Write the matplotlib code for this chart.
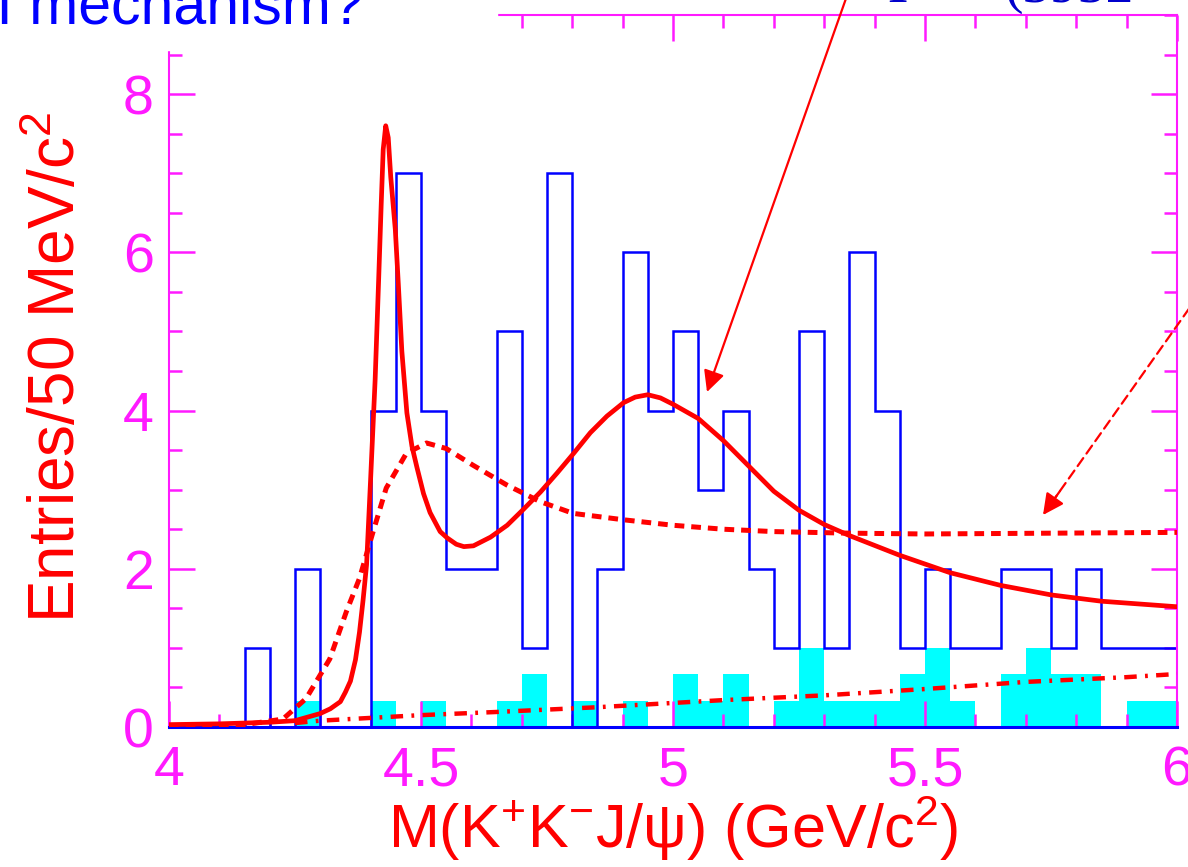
import numpy as np
import matplotlib
matplotlib.use("Agg")
import matplotlib.pyplot as plt
from matplotlib import font_manager
from matplotlib.patches import Rectangle
from matplotlib.ticker import MultipleLocator

# 50 MeV bins from 4.0 to 6.0 GeV
edges = np.round(np.arange(4.0, 6.0001, 0.05), 3)

# candidate events per bin
data_counts = [0, 0, 0, 1, 0, 2, 0, 0, 4, 7,
               4, 2, 2, 5, 1, 7, 0, 2, 6, 4,
               5, 3, 4, 2, 1, 5, 1, 6, 4, 1,
               2, 1, 1, 2, 2, 1, 2, 1, 1, 1]
# scaled sideband (1/3 per event)
sideband = [0, 0, 0, 0, 0, 1/3, 0, 0, 1/3, 0,
            1/3, 0, 0, 1/3, 2/3, 0, 1/3, 0, 1/3, 0,
            2/3, 1/3, 2/3, 0, 1/3, 1, 1/3, 1/3, 1/3, 2/3,
            1, 1/3, 0, 2/3, 1, 2/3, 2/3, 0, 1/3, 1/3]

# total fit
fit_m = [4.00, 4.10, 4.20, 4.25, 4.30, 4.32, 4.34, 4.35, 4.36, 4.37,
         4.378, 4.385, 4.392, 4.400, 4.409, 4.416, 4.421, 4.425, 4.430, 4.435,
         4.440, 4.449, 4.455, 4.462, 4.472, 4.482, 4.492, 4.505, 4.518, 4.538,
         4.552, 4.570, 4.585, 4.604, 4.638, 4.671, 4.703, 4.737, 4.770, 4.803,
         4.836, 4.869, 4.902, 4.925, 4.950, 4.975, 5.00, 5.05, 5.10, 5.15,
         5.20, 5.25, 5.30, 5.35, 5.45, 5.55, 5.65, 5.75, 5.85, 6.00]
fit_n = [0.03, 0.04, 0.06, 0.08, 0.17, 0.23, 0.32, 0.44, 0.58, 0.85,
         1.20, 1.60, 2.05, 3.13, 4.39, 5.66, 6.60, 7.30, 7.60, 7.45,
         6.95, 6.29, 5.60, 4.75, 3.97, 3.55, 3.28, 2.95, 2.71, 2.47,
         2.39, 2.31, 2.28, 2.29, 2.40, 2.55, 2.75, 2.97, 3.21, 3.46,
         3.72, 3.93, 4.10, 4.17, 4.20, 4.16, 4.08, 3.90, 3.62, 3.30,
         2.98, 2.74, 2.56, 2.42, 2.17, 1.95, 1.79, 1.67, 1.59, 1.52]

# phase-space like component (dashed)
ps_m = [4.00, 4.15, 4.226, 4.272, 4.319, 4.352, 4.378, 4.405, 4.431, 4.471,
        4.511, 4.550, 4.603, 4.670, 4.736, 4.802, 4.901, 5.00, 5.10, 5.20,
        5.35, 5.50, 5.75, 6.00]
ps_n = [0.00, 0.03, 0.10, 0.36, 0.86, 1.46, 1.88, 2.47, 3.02, 3.46,
        3.59, 3.52, 3.31, 3.06, 2.85, 2.70, 2.62, 2.55, 2.50, 2.47,
        2.45, 2.44, 2.45, 2.46]

# background (dash-dot)
bg_m = [4.25, 4.30, 4.50, 4.65, 4.85, 5.10, 5.30, 5.50, 5.70, 5.90, 6.00]
bg_n = [0.05, 0.08, 0.15, 0.19, 0.25, 0.34, 0.40, 0.48, 0.57, 0.63, 0.67]

MAG = "#ff1aff"
W, H = 1188, 867

names = {f.name for f in font_manager.fontManager.ttflist}
tickfont = "Liberation Sans Narrow" if "Liberation Sans Narrow" in names else "Liberation Sans"

plt.rcParams["font.family"] = ["Liberation Sans", "DejaVu Sans"]
plt.rcParams["mathtext.fontset"] = "custom"
plt.rcParams["mathtext.rm"] = "Liberation Sans"
plt.rcParams["mathtext.it"] = "Liberation Sans"
plt.rcParams["lines.scale_dashes"] = False

fig = plt.figure(figsize=(W / 100, H / 100), dpi=100)
ax = fig.add_axes([169 / W, 1 - 727 / H, (1177 - 169) / W, (727 - 15) / H])

ax.stairs(sideband, edges, fill=True, color="#00ffff", zorder=1)
ax.stairs(data_counts, edges, color="#0000ff", lw=1.8, zorder=2)

ax.plot(bg_m, bg_n, color="red", lw=3.2, zorder=3,
        linestyle=(0, (9, 6, 2, 6)))
ax.plot(ps_m, ps_n, color="red", lw=3.6, zorder=3,
        linestyle=(0, (7, 5)))
ax.plot(fit_m, fit_n, color="red", lw=3.4, zorder=4,
        solid_joinstyle="round", solid_capstyle="round")

ax.set_xlim(4, 6)
ax.set_ylim(0, 9)
ax.xaxis.set_major_locator(MultipleLocator(0.5))
ax.xaxis.set_minor_locator(MultipleLocator(0.1))
ax.yaxis.set_major_locator(MultipleLocator(2))
ax.yaxis.set_minor_locator(MultipleLocator(0.5))
ax.set_xticks([4, 4.5, 5, 5.5, 6], ["4", "4.5", "5", "5.5", "6"])

ax.tick_params(which="both", direction="in", top=True, right=True,
               color=MAG, width=1.8, labelcolor=MAG)
ax.tick_params(which="major", length=19, labelsize=40)
ax.tick_params(which="minor", length=9.5)
ax.tick_params(axis="x", pad=13)
ax.tick_params(axis="y", pad=11)
for lab in ax.get_xticklabels() + ax.get_yticklabels():
    lab.set_fontfamily(tickfont)

for side in ("left", "right", "top"):
    ax.spines[side].set_color(MAG)
    ax.spines[side].set_linewidth(1.5)
ax.spines["bottom"].set_color("#0000ff")
ax.spines["bottom"].set_linewidth(2.2)

def fx(x):
    return x / W

def fy(y):
    return 1 - y / H

fig.text(fx(673), fy(848), "M(K$^{+}$K$^{-}$J/ψ) (GeV/c$^{2}$)",
         color="red", fontsize=44, ha="center", va="baseline")
fig.text(fx(58), fy(367), "Entries/50 MeV/c$^{2}$", color="red",
         fontsize=46, rotation=90, ha="center", va="center")

# slide elements overlapping the plot
fig.patches.append(Rectangle((0, fy(50)), fx(497), 50 / H,
                             transform=fig.transFigure, color="white", zorder=10))
fig.text(fx(364), fy(24), "FSI mechanism?", color="#0000ff", fontsize=42.5,
         ha="right", va="baseline", zorder=11)
fig.text(fx(897), fy(2), "Y", color="#0000cc", fontsize=40, ha="center",
         va="baseline", family=["Liberation Serif", "DejaVu Serif"])
fig.text(fx(1005), fy(2), "(3932", color="#0000cc", fontsize=40, ha="left",
         va="baseline", family=["Liberation Serif", "DejaVu Serif"])

# arrows pointing at the fit components
ax.annotate("", xy=(707, H - 392), xycoords="figure pixels",
            xytext=(849, H + 10), textcoords="figure pixels",
            annotation_clip=False,
            arrowprops=dict(arrowstyle="-|>", color="red", lw=1.6,
                            mutation_scale=32, shrinkA=0, shrinkB=0))
ax.annotate("", xy=(1055, H - 498), xycoords="figure pixels",
            xytext=(1198, H - 296), textcoords="figure pixels",
            annotation_clip=False,
            arrowprops=dict(arrowstyle="-", color="red", lw=1.6,
                            linestyle=(0, (7, 4)), shrinkA=0, shrinkB=0))
ax.annotate("", xy=(1043, H - 515), xycoords="figure pixels",
            xytext=(1060, H - 491), textcoords="figure pixels",
            annotation_clip=False,
            arrowprops=dict(arrowstyle="-|>", color="red", lw=1.6,
                            mutation_scale=32, shrinkA=0, shrinkB=0))

fig.savefig("out.png", dpi=100)
